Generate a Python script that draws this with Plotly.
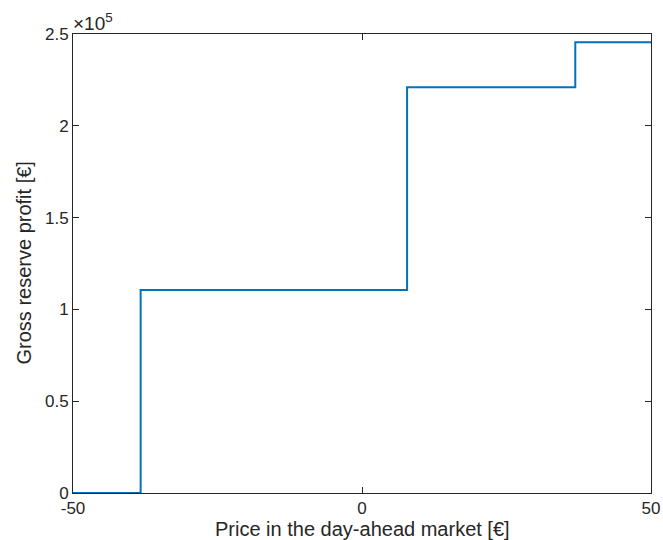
import plotly.graph_objects as go

price = [-50, -38.3, 7.8, 36.9, 50]
profit = [0, 110500, 221000, 245500, 245500]
x_ticks = [-50, 0, 50]
y_tickvals = [0, 50000, 100000, 150000, 200000, 250000]
y_ticktext = ["0", "0.5", "1", "1.5", "2", "2.5"]

font = "Liberation Sans, Arial, Helvetica, sans-serif"
axcol = "#262626"

W, H = 663, 540
L, R, T, B = 73, 12, 34, 47
pw, ph = W - L - R, H - T - B

fig = go.Figure()
fig.add_trace(go.Scatter(x=price, y=profit, mode="lines", line=dict(color="#0072BD", width=2, shape="hv"),
                         showlegend=False, hoverinfo="skip"))

common = dict(showgrid=False, zeroline=False, showline=True, linecolor=axcol, linewidth=1, mirror="ticks",
              ticks="inside", ticklen=6, tickcolor=axcol, tickwidth=1, automargin=False,
              tickfont=dict(family=font, size=17, color=axcol))
fig.update_xaxes(range=[-50, 50], tickvals=x_ticks, ticktext=[str(v) for v in x_ticks], **common)
fig.update_yaxes(range=[0, 250000], tickvals=y_tickvals, ticktext=y_ticktext, **common)

fig.add_annotation(xref="paper", yref="paper", x=0.5, y=-(529 - 493) / ph, xanchor="center", yanchor="middle",
                   text="Price in the day-ahead market [€]", showarrow=False,
                   font=dict(family=font, size=20, color=axcol))
fig.add_annotation(xref="paper", yref="paper", x=-(L - 23) / pw, y=0.5, xanchor="center", yanchor="middle",
                   textangle=-90, text="Gross reserve profit [€]", showarrow=False,
                   font=dict(family=font, size=20, color=axcol))
fig.add_annotation(xref="paper", yref="paper", x=0, y=1, xanchor="left", yanchor="bottom", yshift=-2, xshift=-2,
                   text="×10<sup>5</sup>", showarrow=False, font=dict(family=font, size=19, color=axcol))
fig.update_layout(width=W, height=H, margin=dict(l=L, r=R, t=T, b=B),
                  plot_bgcolor="white", paper_bgcolor="white")
fig.write_html("out.html")
